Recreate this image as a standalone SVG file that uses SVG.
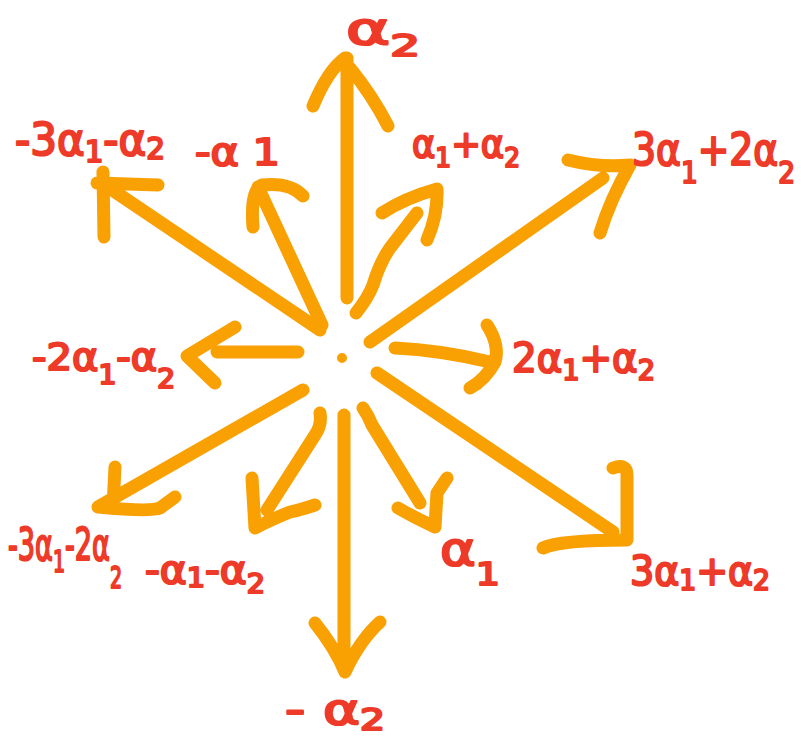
<svg xmlns="http://www.w3.org/2000/svg" width="801" height="740" viewBox="0 0 801 740">
<style>
.a{fill:none;stroke:#F9A003;stroke-width:13;stroke-linecap:round;stroke-linejoin:round}
.t{font-family:"DejaVu Sans","Noto Sans",sans-serif;font-weight:400;fill:#EE3A28;stroke:#EE3A28;stroke-width:2.2;stroke-linejoin:round}
.s{font-size:0.7em}
</style>
<rect width="801" height="740" fill="#fff"/>
<g id="connectors">
<path class="a" d="M347,298 L347,58 M313,106 Q328,70 345,58 M350,68 Q372,95 388,126"/>
<path class="a" d="M344,415 L344,670 M315,623 Q335,648 345,672 Q360,640 380,622"/>
<path class="a" d="M356,313 Q368,298 373,285 Q380,262 390,248 L417,213 M382,213 Q405,198 437,189 Q438,215 427,240"/>
<path class="a" d="M370,342 L603,178 M568,160 Q600,168 630,165 Q610,200 600,233"/>
<path class="a" d="M395,348 Q440,350 490,362 M487,325 Q500,345 495,362 Q485,380 470,388"/>
<path class="a" d="M322,325 L258,187 M253,227 Q250,190 262,185 Q290,182 303,196"/>
<path class="a" d="M320,330 L102,183 M103,172 L104,237 M97,183 L158,185"/>
<path class="a" d="M217,352 L298,352 M235,327 L187,356 L215,383"/>
<path class="a" d="M303,390 L98,507 M115,467 L113,507 M98,507 Q150,512 160,508 L175,497"/>
<path class="a" d="M320,413 Q322,425 315,435 L267,510 M252,478 L255,528 M255,528 Q270,520 290,512 Q300,510 315,505"/>
<path class="a" d="M363,408 Q368,415 372,425 L420,503 M398,508 Q415,518 435,527 L437,493 L447,478"/>
<path class="a" d="M377,373 L613,532 M613,468 Q627,463 627,475 L627,540 M543,548 Q560,540 627,540"/>
<circle cx="342" cy="358" r="5" fill="#F9A003"/>
</g>
<g id="n-a2"><text class="t" x="346" y="44" font-size="44" textLength="74" lengthAdjust="spacingAndGlyphs">α<tspan class="s" dy="12">2</tspan></text></g>
<g id="n-ma2"><text class="t" x="285" y="724" font-size="42" textLength="100" lengthAdjust="spacingAndGlyphs">- α<tspan class="s" dy="6">2</tspan></text></g>
<g id="n-a1a2"><text class="t" x="412" y="157" font-size="38" textLength="108" lengthAdjust="spacingAndGlyphs">α<tspan class="s" dy="10">1</tspan><tspan dy="-10">+α</tspan><tspan class="s" dy="10">2</tspan></text></g>
<g id="n-3a12a2"><text class="t" x="632" y="165" font-size="44" textLength="163" lengthAdjust="spacingAndGlyphs">3α<tspan class="s" dy="18">1</tspan><tspan dy="-18">+2α</tspan><tspan class="s" dy="18">2</tspan></text></g>
<g id="n-2a1a2"><text class="t" x="512" y="372" font-size="40" textLength="143" lengthAdjust="spacingAndGlyphs">2α<tspan class="s" dy="8">1</tspan><tspan dy="-8">+α</tspan><tspan class="s" dy="8">2</tspan></text></g>
<g id="n-ma1"><text class="t" x="195" y="165" font-size="38" textLength="85" lengthAdjust="spacingAndGlyphs">-α <tspan>1</tspan></text></g>
<g id="n-m3a1a2"><text class="t" x="15" y="155" font-size="44" textLength="150" lengthAdjust="spacingAndGlyphs">-3α<tspan class="s" dy="7">1</tspan><tspan dy="-7">-α</tspan><tspan class="s" dy="4">2</tspan></text></g>
<g id="n-m2a1a2"><text class="t" x="32" y="370" font-size="38" textLength="143" lengthAdjust="spacingAndGlyphs">-2α<tspan class="s" dy="14">1</tspan><tspan dy="-14">-α</tspan><tspan class="s" dy="18">2</tspan></text></g>
<g id="n-m3a12a2"><text class="t" x="8" y="560" font-size="44" textLength="114" lengthAdjust="spacingAndGlyphs">-3α<tspan class="s" dy="12">1</tspan><tspan dy="-12">-2α</tspan><tspan class="s" dy="28">2</tspan></text></g>
<g id="n-ma1a2"><text class="t" x="145" y="583" font-size="38" textLength="120" lengthAdjust="spacingAndGlyphs">-α<tspan class="s" dy="4">1</tspan><tspan dy="-4">-α</tspan><tspan class="s" dy="10">2</tspan></text></g>
<g id="n-a1"><text class="t" x="440" y="565" font-size="46" textLength="60" lengthAdjust="spacingAndGlyphs">α<tspan class="s" dy="20">1</tspan></text></g>
<g id="n-3a1a2"><text class="t" x="630" y="585" font-size="40" textLength="140" lengthAdjust="spacingAndGlyphs">3α<tspan class="s" dy="5">1</tspan><tspan dy="-5">+α</tspan><tspan class="s" dy="5">2</tspan></text></g>
</svg>
